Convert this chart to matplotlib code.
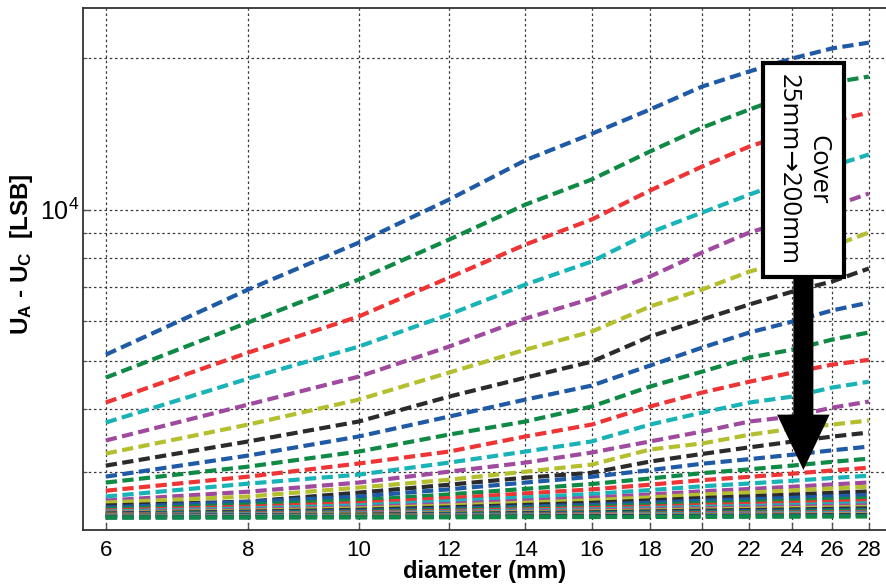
import matplotlib
matplotlib.use("Agg")
import matplotlib.pyplot as plt
from matplotlib.ticker import FixedLocator, FixedFormatter, LogLocator, NullFormatter, NullLocator
from matplotlib.patches import Rectangle, FancyArrow

plt.rcParams['font.family'] = ['Liberation Sans', 'DejaVu Sans']
plt.rcParams['mathtext.fontset'] = 'custom'
plt.rcParams['mathtext.rm'] = 'Liberation Sans'
plt.rcParams['mathtext.bf'] = 'Liberation Sans:bold'
plt.rcParams['mathtext.it'] = 'Liberation Sans:italic'

# object diameter (mm)
diameter = [6, 8, 10, 12, 14, 16, 18, 20, 22, 24, 26, 28]

# U_A - U_C [LSB] for each cover thickness, 25 mm (top) down to 205 mm (bottom)
cover_25 = [5140, 6930, 8594, 10470, 12540, 14150, 15820, 17580, 18840, 20000, 20940, 21500]
cover_30 = [4626, 5960, 7255, 8714, 10230, 11475, 13050, 14560, 15820, 17000, 17900, 18400]
cover_35 = [4127, 5190, 6124, 7320, 8517, 9552, 10910, 12180, 13350, 14250, 15000, 15600]
cover_40 = [3765, 4606, 5334, 6180, 7090, 7878, 9000, 9863, 10710, 11500, 12200, 12870]
cover_45 = [3467, 4089, 4648, 5334, 6066, 6650, 7355, 8209, 9000, 9550, 10150, 10760]
cover_50 = [3266, 3730, 4183, 4735, 5260, 5713, 6410, 6930, 7523, 7950, 8450, 9000]
cover_55 = [3090, 3452, 3783, 4241, 4626, 4977, 5585, 6040, 6470, 6865, 7190, 7630]
cover_60 = [2938, 3236, 3532, 3870, 4183, 4460, 4889, 5309, 5690, 5983, 6295, 6526]
cover_65 = [2859, 3076, 3296, 3563, 3783, 4052, 4440, 4755, 5070, 5260, 5508, 5690]
cover_70 = [2754, 2938, 3120, 3296, 3532, 3730, 4052, 4320, 4540, 4735, 4910, 5020]
cover_75 = [2682, 2845, 2965, 3133, 3296, 3452, 3730, 3941, 4127, 4241, 4420, 4540]
cover_80 = [2632, 2742, 2859, 3006, 3133, 3281, 3452, 3613, 3783, 3870, 4032, 4145]
cover_85 = [2608, 2682, 2794, 2897, 3006, 3104, 3327, 3420, 3560, 3660, 3730, 3800]
cover_90 = [2573, 2620, 2730, 2831, 2924, 2990, 3148, 3260, 3360, 3450, 3530, 3596]
cover_95 = [2550, 2616, 2682, 2772, 2859, 2936, 3027, 3117, 3183, 3249, 3314, 3372]
cover_100 = [2530, 2583, 2636, 2708, 2778, 2840, 2913, 2985, 3038, 3091, 3144, 3190]
cover_105 = [2515, 2559, 2602, 2662, 2720, 2771, 2831, 2891, 2935, 2978, 3022, 3060]
cover_110 = [2503, 2539, 2575, 2624, 2671, 2713, 2762, 2811, 2847, 2883, 2919, 2950]
cover_115 = [2494, 2523, 2553, 2593, 2632, 2666, 2706, 2747, 2776, 2805, 2834, 2860]
cover_120 = [2487, 2512, 2538, 2573, 2607, 2636, 2671, 2706, 2732, 2757, 2783, 2805]
cover_125 = [2481, 2502, 2523, 2552, 2580, 2605, 2634, 2663, 2684, 2705, 2727, 2745]
cover_130 = [2476, 2494, 2512, 2536, 2560, 2581, 2606, 2631, 2648, 2666, 2684, 2700]
cover_135 = [2471, 2486, 2501, 2522, 2542, 2560, 2581, 2601, 2617, 2632, 2647, 2660]
cover_140 = [2467, 2480, 2493, 2510, 2528, 2543, 2560, 2578, 2591, 2604, 2617, 2628]
cover_145 = [2463, 2474, 2485, 2500, 2515, 2527, 2542, 2558, 2568, 2579, 2590, 2600]
cover_150 = [2460, 2469, 2479, 2492, 2504, 2515, 2528, 2541, 2550, 2559, 2569, 2577]
cover_155 = [2457, 2465, 2473, 2484, 2495, 2504, 2515, 2526, 2534, 2542, 2550, 2557]
cover_160 = [2454, 2461, 2468, 2477, 2486, 2494, 2504, 2513, 2520, 2527, 2534, 2540]
cover_165 = [2451, 2457, 2463, 2471, 2479, 2486, 2494, 2502, 2508, 2514, 2520, 2525]
cover_170 = [2449, 2454, 2459, 2466, 2473, 2479, 2486, 2492, 2498, 2503, 2508, 2512]
cover_175 = [2447, 2451, 2455, 2461, 2467, 2472, 2478, 2484, 2488, 2492, 2496, 2500]
cover_180 = [2445, 2449, 2452, 2457, 2462, 2466, 2471, 2476, 2480, 2483, 2487, 2490]
cover_185 = [2443, 2446, 2449, 2453, 2457, 2460, 2464, 2469, 2471, 2474, 2477, 2480]
cover_190 = [2441, 2443, 2446, 2449, 2452, 2455, 2458, 2462, 2464, 2467, 2469, 2471]
cover_195 = [2439, 2441, 2443, 2445, 2448, 2450, 2453, 2456, 2457, 2459, 2461, 2463]
cover_200 = [2437, 2438, 2440, 2442, 2444, 2445, 2447, 2449, 2451, 2452, 2454, 2455]
cover_205 = [2435, 2436, 2437, 2438, 2440, 2441, 2442, 2443, 2444, 2445, 2446, 2447]

curves = [cover_25, cover_30, cover_35, cover_40, cover_45, cover_50, cover_55,
          cover_60, cover_65, cover_70, cover_75, cover_80, cover_85, cover_90,
          cover_95, cover_100, cover_105, cover_110, cover_115, cover_120,
          cover_125, cover_130, cover_135, cover_140, cover_145, cover_150,
          cover_155, cover_160, cover_165, cover_170, cover_175, cover_180,
          cover_185, cover_190, cover_195, cover_200, cover_205]

x_ticks = [6, 8, 10, 12, 14, 16, 18, 20, 22, 24, 26, 28]
x_tick_labels = ['6', '8', '10', '12', '14', '16', '18', '20', '22', '24', '26', '28']

# b, g, r, c, m, y, k cycle
palette = ['#1f5aa6', '#0f8a45', '#ee3434', '#17b3b6', '#a04a9f', '#b4bf2e', '#2b2b2b']

fig = plt.figure(figsize=(8.87, 5.84), dpi=100)
ax = fig.add_axes([83 / 887, 54 / 584, 820 / 887, 522 / 584])
ax.set_xscale('log')
ax.set_yscale('log')
ax.set_xlim(5.73, 30.0)
ax.set_ylim(2300, 25200)

for i, vals in enumerate(curves):
    ax.plot(diameter, vals, color=palette[i % len(palette)], lw=3.0,
            linestyle=(0, (2.7, 1.3)), solid_capstyle='butt',
            dash_capstyle='butt', zorder=3 + i * 0.01)

ax.xaxis.set_major_locator(FixedLocator(x_ticks))
ax.xaxis.set_major_formatter(FixedFormatter(x_tick_labels))
ax.xaxis.set_minor_locator(NullLocator())
ax.yaxis.set_major_locator(LogLocator(base=10))
ax.yaxis.set_minor_locator(LogLocator(base=10, subs=[2, 3, 4, 5, 6, 7, 8, 9]))
ax.yaxis.set_minor_formatter(NullFormatter())

grid_kw = dict(color='#3a3a3a', lw=0.9, linestyle=(0, (2, 2.2)))
ax.grid(True, which='major', axis='both', **grid_kw)
ax.grid(True, which='minor', axis='y', **grid_kw)
ax.set_axisbelow(True)

ax.tick_params(axis='x', which='major', direction='in', length=5, width=1,
               color='#555555', labelsize=16, pad=7)
ax.tick_params(axis='y', which='major', direction='in', length=5, width=1,
               color='#555555', labelsize=18, pad=3)
ax.tick_params(axis='y', which='minor', direction='in', length=3, width=0.8,
               color='#555555')
for side in ['left', 'bottom', 'top']:
    ax.spines[side].set_color('#333333')
    ax.spines[side].set_linewidth(1.3)

ax.set_xlabel('diameter (mm)', fontsize=17, fontweight='bold')
ax.xaxis.set_label_coords(0.49, -0.057)
ax.set_ylabel(r'$\mathbf{U_A}$ - $\mathbf{U_C}$  [LSB]', fontsize=17.5,
              fontweight='bold')
ax.yaxis.set_label_coords(-0.058, 0.529)

# annotation: box with the cover range and a thick downward arrow
box = Rectangle((0.829, 0.485), 0.099, 0.41, transform=ax.transAxes,
                facecolor='white', edgecolor='black', lw=3, zorder=10,
                clip_on=False)
ax.add_patch(box)
ax.text(0.8785, 0.69, 'Cover\n25mm\u2192200mm', transform=ax.transAxes,
        rotation=-90, ha='center', va='center', fontsize=18.5,
        family=['Open Sans', 'DejaVu Sans'], linespacing=1.25, zorder=11)
arrow = FancyArrow(0.8785, 0.485, 0, -0.37, width=0.0244, head_width=0.064,
                   head_length=0.106, length_includes_head=True,
                   transform=ax.transAxes, facecolor='black',
                   edgecolor='black', lw=0, zorder=10, clip_on=False)
ax.add_patch(arrow)

fig.savefig('out.png', dpi=100)
